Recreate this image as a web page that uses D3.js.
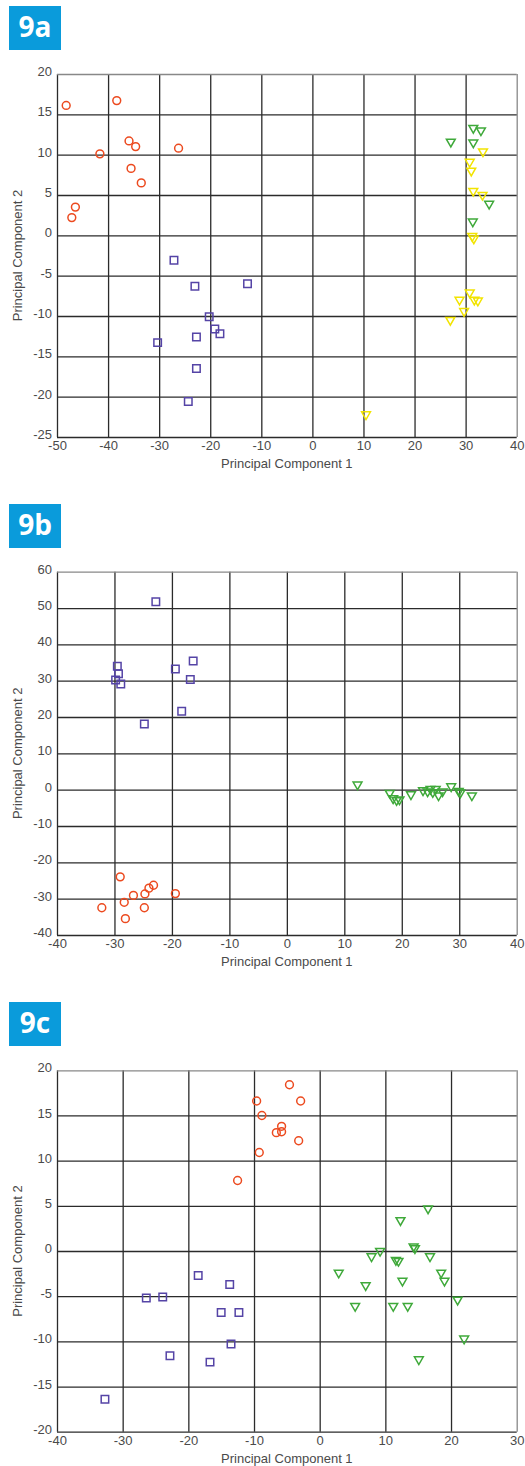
<!DOCTYPE html>
<html>
<head>
<meta charset="utf-8">
<script src="https://cdn.jsdelivr.net/npm/d3@7"></script>
<style>
  html, body { margin: 0; padding: 0; background: #fff; }
  svg { display: block; }
  .tick text { font-family: "Liberation Sans", Arial, sans-serif; font-size: 13px; fill: #4a4a4a; }
  .title { font-family: "Liberation Sans", Arial, sans-serif; font-size: 13px; fill: #4a4a4a; }
  .badge text { font-family: "Open Sans", "Noto Sans", sans-serif; font-weight: 700; font-size: 28px; fill: #fff; }
</style>
</head>
<body>
<svg id="chart" width="525" height="1466"></svg>
<script>
// ---- Panel 9a: PCA scores ----
const aXTicks = [-50, -40, -30, -20, -10, 0, 10, 20, 30, 40];
const aYTicks = [-25, -20, -15, -10, -5, 0, 5, 10, 15, 20];
const aRed = [[-48.2, 16.1], [-38.3, 16.7], [-41.6, 10.1], [-35.9, 11.7], [-34.6, 11.0],
  [-26.2, 10.8], [-35.5, 8.3], [-33.5, 6.5], [-46.4, 3.5], [-47.1, 2.2]];
const aBlue = [[-27.1, -3.1], [-23.0, -6.3], [-12.7, -6.0], [-20.2, -10.1], [-19.1, -11.6],
  [-18.1, -12.2], [-22.7, -12.6], [-30.3, -13.3], [-22.7, -16.5], [-24.3, -20.6]];
const aGreen = [[31.5, 13.3], [33.0, 13.0], [27.1, 11.6], [31.5, 11.5], [34.6, 3.9], [31.4, 1.7]];
const aYellow = [[33.4, 10.4], [30.8, 9.1], [31.1, 8.0], [31.5, 5.5], [33.3, 5.0],
  [31.3, -0.1], [31.6, -0.4], [30.8, -7.1], [28.8, -8.0], [31.7, -8.0], [32.4, -8.1],
  [29.7, -9.4], [27.0, -10.5], [10.5, -22.2]];

// ---- Panel 9b ----
const bXTicks = [-40, -30, -20, -10, 0, 10, 20, 30, 40];
const bYTicks = [-40, -30, -20, -10, 0, 10, 20, 30, 40, 50, 60];
const bBlue = [[-22.8, 51.7], [-29.5, 34.0], [-29.3, 31.9], [-29.8, 30.2], [-28.9, 29.1],
  [-19.4, 33.2], [-16.3, 35.4], [-16.8, 30.3], [-18.3, 21.6], [-24.8, 18.1]];
const bRed = [[-29.0, -24.0], [-32.2, -32.5], [-28.3, -31.0], [-28.1, -35.5], [-26.7, -29.1],
  [-24.7, -28.7], [-24.8, -32.5], [-24.0, -27.1], [-23.2, -26.3], [-19.4, -28.6]];
const bGreen = [[12.3, 1.4], [17.9, -0.9], [18.5, -2.4], [19.1, -2.9], [19.6, -2.7],
  [21.6, -1.3], [23.7, -0.2], [24.5, -0.5], [25.0, 0.2], [25.4, -0.7], [25.9, 0.2],
  [26.4, -1.6], [27.1, -0.5], [28.6, 0.9], [29.9, -0.4], [30.2, -0.8], [32.2, -1.6]];

// ---- Panel 9c ----
const cXTicks = [-40, -30, -20, -10, 0, 10, 20, 30];
const cYTicks = [-20, -15, -10, -5, 0, 5, 10, 15, 20];
const cRed = [[-9.6, 16.6], [-8.8, 15.0], [-9.2, 10.9], [-12.5, 7.8], [-4.6, 18.4],
  [-2.9, 16.6], [-5.8, 13.8], [-5.8, 13.2], [-6.6, 13.1], [-3.2, 12.2]];
const cBlue = [[-18.5, -2.7], [-13.7, -3.7], [-26.4, -5.2], [-23.9, -5.1], [-15.0, -6.8],
  [-12.3, -6.8], [-13.5, -10.3], [-22.8, -11.6], [-16.7, -12.3], [-32.7, -16.4]];
const cGreen = [[16.5, 4.7], [12.3, 3.4], [9.2, 0.0], [7.9, -0.6], [14.3, 0.5], [14.5, 0.3],
  [11.6, -1.0], [12.0, -1.1], [16.8, -0.6], [2.9, -2.4], [18.5, -2.4], [19.0, -3.3],
  [12.6, -3.3], [7.0, -3.8], [21.0, -5.4], [5.4, -6.1], [11.2, -6.1], [13.4, -6.1],
  [22.0, -9.7], [15.1, -12.0]];

const COLORS = { red: "#ec4a1f", blue: "#5544a6", green: "#3fa93a", yellow: "#f2e400" };

const svg = d3.select("#chart");

function drawPanel(cfg) {
  const { badge, top, badgeY, xTicks, yTicks, series } = cfg;
  const left = 57, right = 516.7, bottom = cfg.bottom;
  const x = d3.scaleLinear().domain(d3.extent(xTicks)).range([left, right]);
  const y = d3.scaleLinear().domain(d3.extent(yTicks)).range([bottom, top]);

  // label badge
  const b = svg.append("g").attr("class", "badge");
  b.append("rect").attr("x", 9).attr("y", badgeY).attr("width", 52).attr("height", 44).attr("fill", "#0a9bdb");
  b.append("text").attr("x", 35).attr("y", badgeY + 31).attr("text-anchor", "middle").text(badge);

  // grid + tick labels
  const gx = svg.append("g").attr("transform", `translate(0,${bottom})`)
    .call(d3.axisBottom(x).tickValues(xTicks).tickSize(-(bottom - top)).tickPadding(4).tickFormat(d3.format("d")));
  const gy = svg.append("g").attr("transform", `translate(${left},0)`)
    .call(d3.axisLeft(y).tickValues(yTicks).tickSize(-(right - left)).tickPadding(5).tickFormat(d3.format("d")));
  [gx, gy].forEach(g => {
    g.select(".domain").remove();
    g.selectAll(".tick line").attr("stroke", "#2b2b2b").attr("stroke-width", 1.3);
  });
  gx.selectAll(".tick text").attr("dy", "0.71em").text(d => String(d));
  gy.selectAll(".tick text").attr("dy", "0.12em").text(d => String(d));
  // lighter outer frame on top and right
  gx.selectAll(".tick").filter(d => d === xTicks[xTicks.length - 1]).select("line").attr("stroke", "#888");
  gy.selectAll(".tick").filter(d => d === yTicks[yTicks.length - 1]).select("line").attr("stroke", "#888");

  // axis titles
  svg.append("text").attr("class", "title").attr("x", (left + right) / 2).attr("y", bottom + 31)
    .attr("text-anchor", "middle").text("Principal Component 1");
  svg.append("text").attr("class", "title")
    .attr("transform", `translate(22,${(top + bottom) / 2}) rotate(-90)`)
    .attr("text-anchor", "middle").text("Principal Component 2");

  // markers
  const shapes = {
    circle: d3.symbol().type(d3.symbolCircle).size(48),
    square: d3.symbol().type(d3.symbolSquare).size(56),
    triangle: d3.symbol().type(d3.symbolTriangle).size(34)
  };
  series.forEach(s => {
    svg.append("g").selectAll("path").data(s.data).join("path")
      .attr("d", shapes[s.shape]())
      .attr("transform", d => `translate(${x(d[0])},${y(d[1])})` + (s.shape === "triangle" ? " rotate(180)" : ""))
      .attr("fill", "none").attr("stroke", COLORS[s.color]).attr("stroke-width", 1.5);
  });
}

drawPanel({ badge: "9a", badgeY: 6, top: 74, bottom: 437, xTicks: aXTicks, yTicks: aYTicks,
  series: [
    { data: aRed, shape: "circle", color: "red" },
    { data: aBlue, shape: "square", color: "blue" },
    { data: aYellow, shape: "triangle", color: "yellow" },
    { data: aGreen, shape: "triangle", color: "green" }
  ] });

drawPanel({ badge: "9b", badgeY: 504, top: 571.7, bottom: 935, xTicks: bXTicks, yTicks: bYTicks,
  series: [
    { data: bBlue, shape: "square", color: "blue" },
    { data: bRed, shape: "circle", color: "red" },
    { data: bGreen, shape: "triangle", color: "green" }
  ] });

drawPanel({ badge: "9c", badgeY: 1002, top: 1070.3, bottom: 1431.7, xTicks: cXTicks, yTicks: cYTicks,
  series: [
    { data: cRed, shape: "circle", color: "red" },
    { data: cBlue, shape: "square", color: "blue" },
    { data: cGreen, shape: "triangle", color: "green" }
  ] });
</script>
</body>
</html>
